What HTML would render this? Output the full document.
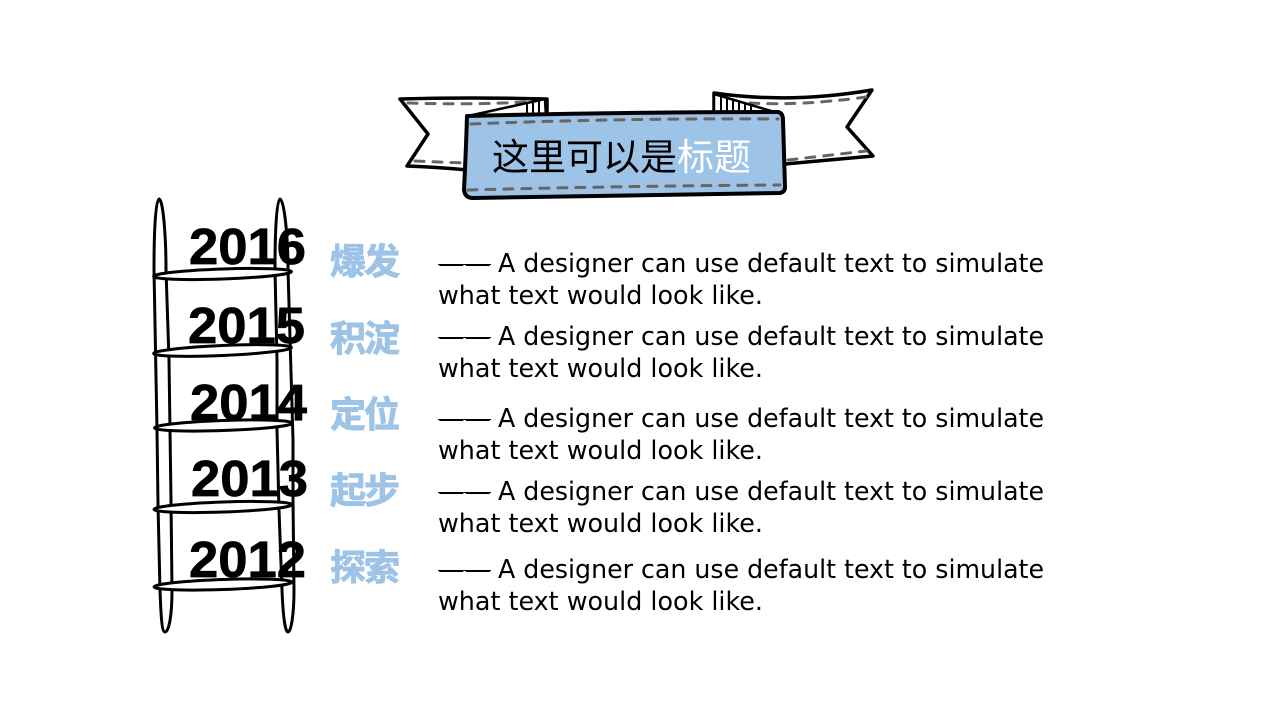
<!DOCTYPE html>
<html><head><meta charset="utf-8">
<style>
html,body{margin:0;padding:0;background:#fff;width:1280px;height:720px;overflow:hidden}
svg{display:block}
.y{font:bold 51px "Liberation Sans",sans-serif;fill:#000;stroke:#000;stroke-width:.7}
.l{font:bold 36px "Liberation Sans","Noto Sans CJK SC",sans-serif;fill:#9DC3E6;stroke:#9DC3E6;stroke-width:.9;letter-spacing:-2px}
.b{font:26px "DejaVu Sans",sans-serif;fill:#000}
.t{font:37px "Liberation Sans","Noto Sans CJK SC",sans-serif;fill:#000}
.d{fill:none;stroke:#666;stroke-width:3;stroke-dasharray:9 9;stroke-linecap:round}
.p{fill:none;stroke:#000;stroke-width:3}
.r{fill:#fff;stroke:#000;stroke-width:3}
</style></head><body>
<svg width="1280" height="720" viewBox="0 0 1280 720" xmlns="http://www.w3.org/2000/svg">
<!-- ribbon tails -->
<path d="M400,99 Q470,97 547,99 L547,120 L468,170 Q435,167 407,166 L428,134 Z" fill="#fff" stroke="#000" stroke-width="3.500" stroke-linejoin="round"/>
<path d="M714,93 Q790,104 872,90 L847,127 L873,156 L785,164 L714,120 Z" fill="#fff" stroke="#000" stroke-width="3.500" stroke-linejoin="round"/>
<path class="d" d="M408,103 Q470,105 525,102"/>
<path class="d" d="M415,161 L465,163"/>
<path class="d" d="M750,103 Q800,106 866,97"/>
<path class="d" d="M788,160 L866,151"/>
<path d="M468,116 L545,99 L546,118 Z" fill="#fff" stroke="#000" stroke-width="2.500"/>
<path d="M714,94 L778,113 L714,114 Z" fill="#fff" stroke="#000" stroke-width="2.500"/>
<path d="M527,104V116M533,103V116M539,101V116M721,96V113M727,98V113M733,100V113M739,102V113M745,103V113M751,105V113" stroke="#000" stroke-width="2" fill="none"/>
<!-- ribbon main -->
<path d="M467,116 Q620,112 778,112 Q783,113 783,120 L785,187 Q785,192 780,193 Q620,196 473,198 Q465,198 464,190 Q466,150 467,116 Z" fill="#9DC3E6" stroke="#000" stroke-width="4" stroke-linejoin="round"/>
<path class="d" d="M471,124 Q620,118 778,119"/>
<path class="d" d="M468,190 Q620,186 780,185"/>
<text class="t" x="492" y="170">这里可以是<tspan fill="#fff">标题</tspan></text>
<!-- ladder poles -->
<path class="p" d="M154,270 C154,225 156,199 159,199 C163,199 166,235 166,270 L169,360 L171,500 L172,590 C172,615 169,632 165,632 C162,632 161,618 160,590 L158,505 L157,430 Z"/>
<path class="p" d="M275,270 C275,225 277,199 280,199 C284,199 288,235 288,270 L293,440 L293,500 L294,590 C294,615 291,632 288,632 C285,632 283,615 282,590 L279,510 L277,430 L277,360 Z"/>
<!-- years -->
<text class="y" x="189" y="264" textLength="117" lengthAdjust="spacingAndGlyphs">2016</text>
<text class="y" x="188" y="343" textLength="117" lengthAdjust="spacingAndGlyphs">2015</text>
<text class="y" x="190" y="420" textLength="117" lengthAdjust="spacingAndGlyphs">2014</text>
<text class="y" x="191" y="496" textLength="117" lengthAdjust="spacingAndGlyphs">2013</text>
<text class="y" x="189" y="577" textLength="117" lengthAdjust="spacingAndGlyphs">2012</text>
<!-- rungs -->
<ellipse class="r" cx="222.500" cy="274" rx="69" ry="5" transform="rotate(-2 222.500 274)"/>
<ellipse class="r" cx="222.500" cy="350.500" rx="69" ry="5" transform="rotate(-2.500 222.500 350.500)"/>
<ellipse class="r" cx="223.500" cy="425.500" rx="69" ry="5" transform="rotate(-2 223.500 425.500)"/>
<ellipse class="r" cx="223" cy="507" rx="69" ry="5" transform="rotate(-2 223 507)"/>
<ellipse class="r" cx="223" cy="584.500" rx="69" ry="5" transform="rotate(-2 223 584.500)"/>
<!-- labels -->
<text class="l" x="330" y="274">爆发</text>
<text class="l" x="330" y="351">积淀</text>
<text class="l" x="330" y="427">定位</text>
<text class="l" x="330" y="503">起步</text>
<text class="l" x="330" y="580">探索</text>
<!-- body -->
<path d="M438,264.500H491M438,337.500H491M438,419.500H491M438,492.500H491M438,570.500H491" stroke="#000" stroke-width="1" fill="none"/>
<g>
<text class="b" x="438" y="272" textLength="53" lengthAdjust="spacingAndGlyphs">——</text>
<text class="b" x="498" y="272" textLength="546" lengthAdjust="spacingAndGlyphs">A designer can use default text to simulate</text>
<text class="b" x="438" y="304" textLength="325" lengthAdjust="spacingAndGlyphs">what text would look like.</text>
<text class="b" x="438" y="345" textLength="53" lengthAdjust="spacingAndGlyphs">——</text>
<text class="b" x="498" y="345" textLength="546" lengthAdjust="spacingAndGlyphs">A designer can use default text to simulate</text>
<text class="b" x="438" y="377" textLength="325" lengthAdjust="spacingAndGlyphs">what text would look like.</text>
<text class="b" x="438" y="427" textLength="53" lengthAdjust="spacingAndGlyphs">——</text>
<text class="b" x="498" y="427" textLength="546" lengthAdjust="spacingAndGlyphs">A designer can use default text to simulate</text>
<text class="b" x="438" y="459" textLength="325" lengthAdjust="spacingAndGlyphs">what text would look like.</text>
<text class="b" x="438" y="500" textLength="53" lengthAdjust="spacingAndGlyphs">——</text>
<text class="b" x="498" y="500" textLength="546" lengthAdjust="spacingAndGlyphs">A designer can use default text to simulate</text>
<text class="b" x="438" y="532" textLength="325" lengthAdjust="spacingAndGlyphs">what text would look like.</text>
<text class="b" x="438" y="578" textLength="53" lengthAdjust="spacingAndGlyphs">——</text>
<text class="b" x="498" y="578" textLength="546" lengthAdjust="spacingAndGlyphs">A designer can use default text to simulate</text>
<text class="b" x="438" y="610" textLength="325" lengthAdjust="spacingAndGlyphs">what text would look like.</text>
</g>
</svg>
</body></html>
